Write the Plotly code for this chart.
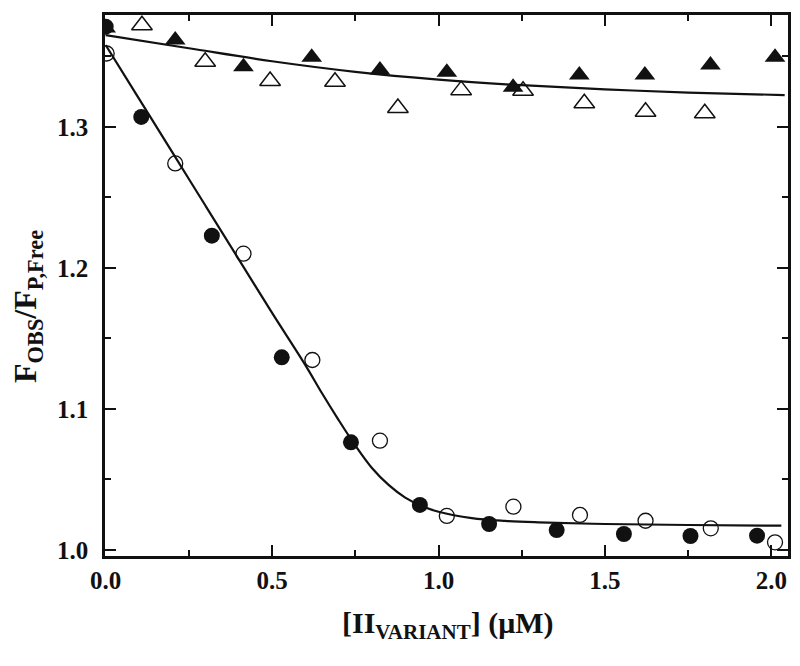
import plotly.graph_objects as go

# Filled circles
fc_x = [0.0, 0.107, 0.319, 0.529, 0.737, 0.944, 1.152, 1.355, 1.557, 1.757, 1.957]
fc_y = [1.371, 1.307, 1.2228, 1.1365, 1.0762, 1.0318, 1.0183, 1.014, 1.0112, 1.0098, 1.010]
# Open circles
oc_x = [0.003, 0.209, 0.414, 0.621, 0.824, 1.025, 1.225, 1.425, 1.622, 1.818, 2.011]
oc_y = [1.352, 1.274, 1.210, 1.1346, 1.0774, 1.024, 1.0306, 1.0247, 1.0206, 1.0152, 1.0053]
# Filled triangles
ft_x = [0.0, 0.209, 0.414, 0.619, 0.824, 1.025, 1.224, 1.423, 1.620, 1.817, 2.011]
ft_y = [1.370, 1.3616, 1.3426, 1.3493, 1.3403, 1.3387, 1.328, 1.3367, 1.3367, 1.3438, 1.3493]
# Open triangles
ot_x = [0.109, 0.299, 0.494, 0.689, 0.878, 1.068, 1.254, 1.438, 1.622, 1.800]
ot_y = [1.372, 1.3462, 1.3325, 1.332, 1.3133, 1.326, 1.3256, 1.3167, 1.3107, 1.3096]
# Fit curves
fit_lo_x = [0.0, 0.1, 0.2, 0.3, 0.4, 0.5, 0.6, 0.65, 0.7, 0.75, 0.8, 0.85, 0.9, 0.95,
            1.0, 1.1, 1.2, 1.3, 1.5, 1.75, 2.03]
fit_lo_y = [1.358, 1.320, 1.282, 1.244, 1.206, 1.168, 1.131, 1.111, 1.092, 1.074, 1.058,
            1.046, 1.037, 1.031, 1.027, 1.0225, 1.0205, 1.0195, 1.0183, 1.0176, 1.0171]
fit_hi_x = [0.0, 0.25, 0.5, 0.75, 1.0, 1.25, 1.5, 1.75, 2.04]
fit_hi_y = [1.365, 1.3557, 1.3465, 1.339, 1.3335, 1.3295, 1.3266, 1.3243, 1.3225]

x_ticks = [0.0, 0.5, 1.0, 1.5, 2.0]
y_ticks = [1.0, 1.1, 1.2, 1.3]

fig = go.Figure()
fig.add_trace(go.Scatter(x=fit_lo_x, y=fit_lo_y, mode="lines",
                         line=dict(color="#111", width=2.2, shape="spline")))
fig.add_trace(go.Scatter(x=fit_hi_x, y=fit_hi_y, mode="lines",
                         line=dict(color="#111", width=2.2, shape="spline")))
fig.add_trace(go.Scatter(x=oc_x, y=oc_y, mode="markers",
                         marker=dict(symbol="circle-open", size=15, color="#111",
                                     line=dict(width=1.3))))
fig.add_trace(go.Scatter(x=ot_x, y=ot_y, mode="markers",
                         marker=dict(symbol="triangle-up-open", size=18, color="#111",
                                     line=dict(width=1.5))))
fig.add_trace(go.Scatter(x=ft_x, y=ft_y, mode="markers",
                         marker=dict(symbol="triangle-up", size=18, color="#111")))
fig.add_trace(go.Scatter(x=fc_x, y=fc_y, mode="markers",
                         marker=dict(symbol="circle", size=16, color="#111")))

tickfont = dict(family="Liberation Serif", size=25, color="#111", weight="bold")
axis_common = dict(showgrid=False, zeroline=False, showline=True, linecolor="#111",
                   linewidth=2.5, mirror="ticks", ticks="inside", ticklen=11,
                   tickwidth=2, tickcolor="#111", tickfont=tickfont, automargin=False)

fig.update_layout(
    width=784, height=650,
    margin=dict(l=97, r=4, t=7, b=102),
    paper_bgcolor="white", plot_bgcolor="white",
    showlegend=False,
    xaxis=dict(range=[-0.002, 2.05], tickvals=x_ticks, tickformat=".1f",
               minor=dict(ticks="inside", ticklen=6, tickwidth=2, tickcolor="#111", dtick=0.25, tick0=0),
               ticklabelstandoff=0, **axis_common),
    yaxis=dict(range=[0.9956, 1.3793], tickvals=y_ticks, tickformat=".1f",
               minor=dict(ticks="inside", ticklen=6, tickwidth=2, tickcolor="#111", dtick=0.05, tick0=0),
               ticklabelstandoff=9, **axis_common),
    annotations=[
        dict(text="F<sub>OBS</sub>/F<sub>P,Free</sub>", xref="paper", yref="paper",
             x=(27 - 105) / 683, y=(556 - 307) / 541, xanchor="center", yanchor="middle",
             textangle=-90, showarrow=False,
             font=dict(family="Liberation Serif", size=32, color="#111", weight="bold")),
        dict(text="[II<sub>VARIANT</sub>] (μM)", xref="paper", yref="paper",
             x=(447 - 105) / 683, y=(556 - 625) / 541, xanchor="center", yanchor="middle",
             showarrow=False,
             font=dict(family="Liberation Serif", size=30, color="#111", weight="bold")),
    ],
)

fig.write_html("out.html")
